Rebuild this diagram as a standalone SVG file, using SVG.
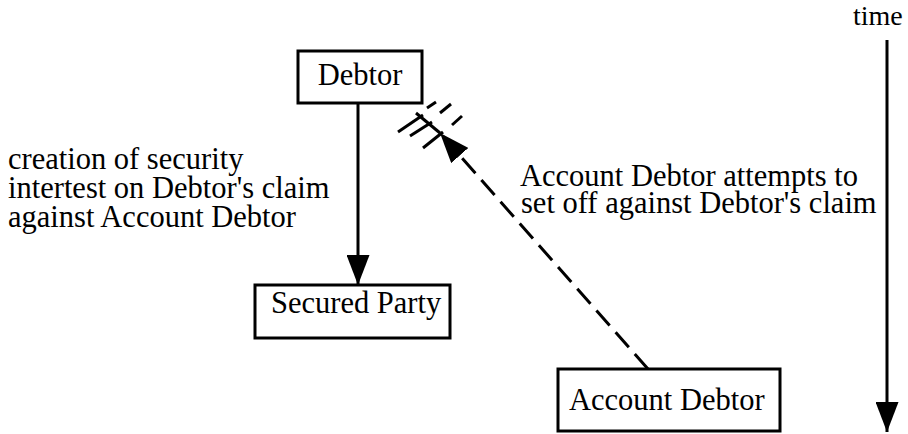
<svg xmlns="http://www.w3.org/2000/svg" width="908" height="434" viewBox="0 0 908 434">
<defs>
<style>
.box{fill:#fff;stroke:#000;stroke-width:3}
.t{font-family:"Liberation Serif","Times New Roman",serif;font-size:30.5px;fill:#000}
.ln{stroke:#000;stroke-width:3;fill:none}
.dash{stroke-dasharray:20 9}
</style>
<marker id="ah" viewBox="0 0 30 23" refX="30" refY="11.5" markerWidth="30" markerHeight="23" markerUnits="userSpaceOnUse" orient="auto">
<path d="M0,0 L30,11.5 L0,23 Z" fill="#000"/>
</marker>
</defs>
<rect width="908" height="434" fill="#fff"/>
<g id="connectors">
<line class="ln" x1="358" y1="103" x2="358" y2="285" marker-end="url(#ah)"/>
<line class="ln dash" x1="648" y1="369" x2="440" y2="133" marker-end="url(#ah)"/>
<line class="ln" x1="416" y1="113" x2="440" y2="133"/>
<line class="ln" x1="398" y1="132" x2="423" y2="115"/>
<line class="ln" x1="427" y1="108" x2="436" y2="102"/>
<line class="ln" x1="410" y1="136" x2="432" y2="122"/>
<line class="ln" x1="440" y1="113" x2="451" y2="104"/>
<line class="ln" x1="423" y1="148" x2="443" y2="132"/>
<line class="ln" x1="452" y1="125" x2="462" y2="116"/>
<line class="ln" x1="887" y1="40" x2="887" y2="432" marker-end="url(#ah)"/>
</g>
<g id="debtor">
<rect class="box" x="298" y="51" width="124" height="52"/>
<text class="t" x="360" y="85" text-anchor="middle">Debtor</text>
</g>
<g id="secured-party">
<rect class="box" x="255" y="285" width="195" height="53"/>
<text class="t" x="271" y="313">Secured Party</text>
</g>
<g id="account-debtor">
<rect class="box" x="558" y="369" width="222" height="62"/>
<text class="t" x="569" y="410">Account Debtor</text>
</g>
<g id="label-creation">
<text class="t" x="8" y="169">creation of security</text>
<text class="t" x="8" y="198">intertest on Debtor's claim</text>
<text class="t" x="8" y="227">against Account Debtor</text>
</g>
<g id="label-setoff">
<text class="t" x="520" y="186">Account Debtor attempts to</text>
<text class="t" x="521" y="213">set off against Debtor's claim</text>
</g>
<g id="time">
<text class="t" x="853" y="25" style="font-size:28px">time</text>
</g>
</svg>
